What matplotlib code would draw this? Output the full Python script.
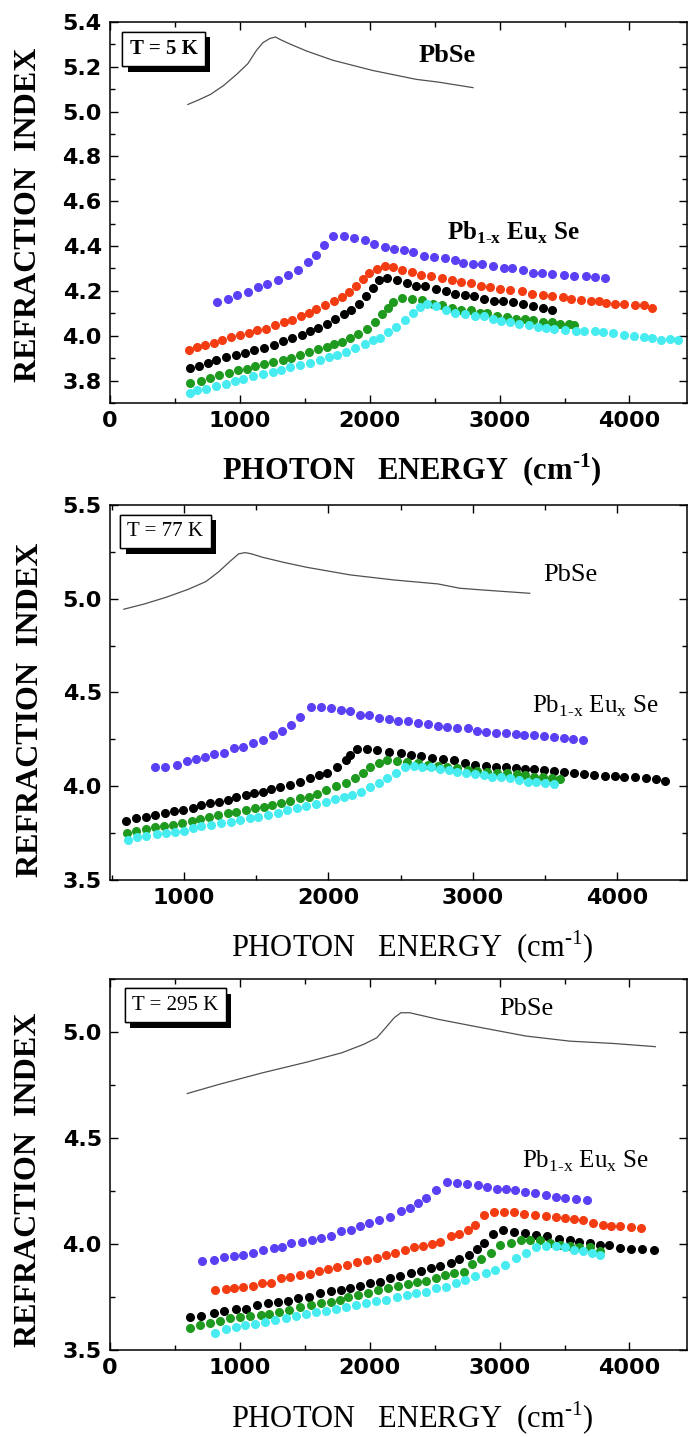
import matplotlib
matplotlib.use('Agg')
import matplotlib.pyplot as plt
import matplotlib.patheffects as pe
from matplotlib.ticker import MultipleLocator

plt.rcParams['mathtext.fontset'] = 'custom'
plt.rcParams['mathtext.rm'] = 'Liberation Serif'
plt.rcParams['mathtext.bf'] = 'Liberation Serif:bold'

# ---------------- T = 5 K ----------------
pbse5_x = [599, 673, 774, 875, 976, 1061, 1128, 1178, 1229, 1273, 1313, 1380, 1515, 1717, 2020, 2357, 2525, 2795]
pbse5_y = [5.032, 5.050, 5.077, 5.117, 5.167, 5.214, 5.274, 5.308, 5.326, 5.333, 5.321, 5.303, 5.270,
           5.229, 5.184, 5.144, 5.132, 5.107]

blue5_x = [825, 909, 976, 1061, 1138, 1212, 1296, 1374, 1448, 1522, 1582, 1650, 1717, 1801,
           1879, 1963, 2030, 2114, 2189, 2263, 2333, 2418, 2492, 2576, 2653, 2721, 2795, 2862,
           2946, 3030, 3098, 3182, 3259, 3327, 3401, 3495, 3569, 3663, 3737, 3811]
blue5_y = [4.150, 4.162, 4.180, 4.195, 4.217, 4.232, 4.250, 4.272, 4.294, 4.329, 4.361, 4.403,
           4.443, 4.443, 4.437, 4.425, 4.409, 4.396, 4.388, 4.384, 4.373, 4.357, 4.351, 4.348,
           4.339, 4.324, 4.318, 4.318, 4.311, 4.303, 4.303, 4.291, 4.281, 4.279, 4.274, 4.269,
           4.266, 4.265, 4.262, 4.257]

red5_x = [606, 667, 731, 798, 865, 933, 1000, 1067, 1135, 1202, 1269, 1337, 1404, 1471, 1532,
          1589, 1657, 1724, 1785, 1842, 1892, 1946, 1997, 2054, 2121, 2182, 2249, 2323, 2397,
          2475, 2559, 2633, 2700, 2778, 2855, 2923, 3003, 3081, 3172, 3249, 3333, 3407, 3485,
          3552, 3630, 3704, 3764, 3822, 3889, 3956, 4040, 4108, 4175]
red5_y = [3.937, 3.949, 3.960, 3.968, 3.979, 3.994, 4.004, 4.013, 4.024, 4.031, 4.049, 4.061,
          4.071, 4.086, 4.101, 4.120, 4.138, 4.153, 4.172, 4.193, 4.221, 4.253, 4.279, 4.297,
          4.312, 4.306, 4.291, 4.284, 4.272, 4.265, 4.257, 4.247, 4.239, 4.235, 4.224, 4.217,
          4.210, 4.202, 4.198, 4.187, 4.180, 4.177, 4.172, 4.162, 4.160, 4.154, 4.153, 4.146,
          4.140, 4.140, 4.138, 4.135, 4.123]

black5_x = [616, 684, 751, 818, 892, 966, 1037, 1111, 1185, 1263, 1330, 1404, 1475, 1542, 1599,
            1667, 1734, 1801, 1859, 1919, 1973, 2027, 2071, 2131, 2212, 2290, 2357, 2424, 2508,
            2586, 2660, 2734, 2801, 2879, 2956, 3024, 3104, 3182, 3259, 3333, 3407]
black5_y = [3.857, 3.864, 3.879, 3.890, 3.905, 3.915, 3.924, 3.937, 3.946, 3.960, 3.976, 3.991,
            4.001, 4.021, 4.034, 4.053, 4.073, 4.095, 4.116, 4.143, 4.175, 4.214, 4.250, 4.259,
            4.247, 4.235, 4.221, 4.220, 4.210, 4.198, 4.187, 4.180, 4.175, 4.165, 4.157, 4.153,
            4.150, 4.143, 4.131, 4.125, 4.116]

green5_x = [616, 700, 768, 842, 916, 987, 1054, 1118, 1185, 1256, 1330, 1397, 1465, 1532, 1599,
            1667, 1724, 1785, 1845, 1912, 1980, 2037, 2094, 2138, 2182, 2249, 2323, 2401, 2485,
            2559, 2636, 2700, 2778, 2845, 2902, 2980, 3054, 3125, 3192, 3259, 3333, 3401, 3468,
            3535, 3576]
green5_y = [3.788, 3.800, 3.812, 3.823, 3.835, 3.845, 3.852, 3.863, 3.872, 3.882, 3.890, 3.901,
            3.915, 3.927, 3.939, 3.949, 3.961, 3.974, 3.991, 4.009, 4.031, 4.061, 4.098, 4.125,
            4.150, 4.168, 4.162, 4.160, 4.143, 4.135, 4.125, 4.116, 4.113, 4.101, 4.101, 4.090,
            4.083, 4.076, 4.073, 4.068, 4.061, 4.061, 4.053, 4.053, 4.046]

cyan5_x = [616, 673, 741, 815, 892, 960, 1027, 1104, 1178, 1253, 1320, 1387, 1465, 1542, 1616,
           1684, 1751, 1818, 1886, 1960, 2027, 2081, 2138, 2205, 2273, 2330, 2384, 2441, 2508,
           2586, 2660, 2734, 2811, 2879, 2946, 3013, 3081, 3148, 3226, 3293, 3360, 3418, 3502,
           3586, 3653, 3731, 3798, 3872, 3956, 4034, 4108, 4175, 4242, 4310, 4377]
cyan5_y = [3.744, 3.759, 3.763, 3.774, 3.786, 3.797, 3.808, 3.818, 3.827, 3.838, 3.848, 3.860,
           3.870, 3.879, 3.893, 3.905, 3.915, 3.927, 3.945, 3.964, 3.979, 3.991, 4.016, 4.038,
           4.068, 4.101, 4.128, 4.140, 4.131, 4.113, 4.101, 4.098, 4.090, 4.086, 4.076, 4.065,
           4.061, 4.053, 4.046, 4.038, 4.034, 4.031, 4.027, 4.019, 4.019, 4.019, 4.016, 4.012,
           4.001, 3.997, 3.994, 3.991, 3.983, 3.986, 3.979]

# ---------------- T = 77 K ----------------
pbse77_x = [585, 727, 879, 1030, 1152, 1242, 1318, 1379, 1424, 1470, 1545, 1697, 1848, 2152, 2455,
            2758, 2909, 3061, 3394]
pbse77_y = [4.944, 4.972, 5.008, 5.050, 5.091, 5.144, 5.198, 5.239, 5.246, 5.239, 5.221, 5.193,
            5.168, 5.127, 5.100, 5.079, 5.056, 5.047, 5.029]

blue77_x = [803, 873, 955, 1024, 1082, 1145, 1212, 1279, 1348, 1409, 1479, 1545, 1615, 1682, 1742,
            1803, 1879, 1948, 2021, 2091, 2152, 2218, 2282, 2348, 2418, 2485, 2552, 2621, 2691,
            2758, 2824, 2894, 2964, 3030, 3091, 3161, 3227, 3297, 3358, 3424, 3491, 3561, 3630,
            3697, 3764]
blue77_y = [4.101, 4.104, 4.113, 4.135, 4.144, 4.158, 4.172, 4.179, 4.202, 4.211, 4.229, 4.247,
            4.273, 4.296, 4.327, 4.371, 4.421, 4.424, 4.416, 4.407, 4.401, 4.380, 4.380, 4.362,
            4.357, 4.350, 4.350, 4.339, 4.330, 4.321, 4.316, 4.309, 4.309, 4.296, 4.291, 4.286,
            4.286, 4.279, 4.273, 4.273, 4.268, 4.261, 4.256, 4.250, 4.247]

black77_x = [600, 667, 742, 803, 873, 933, 994, 1061, 1121, 1182, 1242, 1303, 1364, 1430, 1485,
             1545, 1606, 1667, 1733, 1803, 1873, 1933, 1994, 2061, 2121, 2152, 2197, 2267, 2339,
             2418, 2500, 2570, 2642, 2721, 2794, 2873, 2945, 3015, 3091, 3158, 3227, 3297, 3364,
             3424, 3491, 3561, 3630, 3703, 3773, 3842, 3915, 3985, 4045, 4121, 4197, 4267, 4333]
black77_y = [3.816, 3.829, 3.838, 3.847, 3.859, 3.868, 3.873, 3.882, 3.900, 3.909, 3.918, 3.927,
             3.941, 3.953, 3.962, 3.971, 3.984, 3.998, 4.007, 4.024, 4.042, 4.060, 4.072, 4.104,
             4.140, 4.167, 4.197, 4.197, 4.193, 4.184, 4.176, 4.167, 4.161, 4.149, 4.144, 4.140,
             4.122, 4.113, 4.108, 4.104, 4.101, 4.096, 4.090, 4.090, 4.087, 4.083, 4.078, 4.072,
             4.065, 4.060, 4.056, 4.055, 4.051, 4.048, 4.042, 4.039, 4.030]

green77_x = [606, 667, 736, 803, 864, 924, 985, 1055, 1115, 1176, 1236, 1303, 1364, 1430, 1491,
             1552, 1612, 1673, 1733, 1803, 1864, 1924, 1985, 2055, 2121, 2182, 2242, 2288, 2348,
             2409, 2479, 2545, 2621, 2691, 2758, 2824, 2894, 2964, 3030, 3097, 3167, 3236, 3303,
             3364, 3424, 3485, 3545, 3606]
green77_y = [3.752, 3.763, 3.772, 3.781, 3.788, 3.793, 3.802, 3.816, 3.824, 3.834, 3.847, 3.856,
             3.864, 3.873, 3.882, 3.891, 3.900, 3.912, 3.923, 3.936, 3.944, 3.957, 3.980, 4.001,
             4.016, 4.046, 4.072, 4.101, 4.122, 4.140, 4.135, 4.131, 4.122, 4.113, 4.108, 4.101,
             4.096, 4.087, 4.083, 4.078, 4.072, 4.069, 4.065, 4.060, 4.051, 4.048, 4.042, 4.037]

cyan77_x = [612, 676, 742, 812, 879, 939, 1000, 1061, 1121, 1188, 1258, 1327, 1388, 1455, 1515,
            1582, 1652, 1712, 1782, 1848, 1915, 1985, 2045, 2106, 2167, 2227, 2288, 2348, 2409,
            2470, 2530, 2591, 2652, 2712, 2773, 2833, 2894, 2955, 3015, 3076, 3136, 3197, 3258,
            3318, 3379, 3439, 3500, 3561]
cyan77_y = [3.713, 3.728, 3.735, 3.745, 3.752, 3.758, 3.763, 3.776, 3.788, 3.793, 3.802, 3.811,
            3.820, 3.829, 3.838, 3.847, 3.856, 3.873, 3.882, 3.895, 3.905, 3.918, 3.930, 3.944,
            3.953, 3.971, 3.994, 4.019, 4.042, 4.069, 4.101, 4.108, 4.104, 4.101, 4.090, 4.087,
            4.078, 4.069, 4.065, 4.060, 4.051, 4.051, 4.042, 4.033, 4.024, 4.024, 4.016, 4.012]

# ---------------- T = 295 K ----------------
pbse295_x = [595, 838, 1176, 1514, 1784, 1953, 2054, 2122, 2189, 2240, 2307, 2527, 2865, 3203,
             3541, 3878, 4199]
pbse295_y = [4.710, 4.753, 4.808, 4.858, 4.902, 4.942, 4.973, 5.020, 5.068, 5.091, 5.091, 5.060,
             5.020, 4.981, 4.957, 4.946, 4.931]

blue295_x = [709, 804, 878, 956, 1024, 1101, 1176, 1260, 1321, 1395, 1480, 1554, 1625, 1699, 1777,
             1858, 1926, 1997, 2071, 2155, 2240, 2307, 2375, 2432, 2510, 2595, 2672, 2747, 2831,
             2899, 2976, 3051, 3118, 3193, 3270, 3355, 3432, 3507, 3591, 3669]
blue295_y = [3.918, 3.925, 3.938, 3.946, 3.949, 3.957, 3.973, 3.981, 3.988, 4.004, 4.009, 4.020,
             4.028, 4.040, 4.063, 4.067, 4.086, 4.099, 4.115, 4.126, 4.154, 4.170, 4.193, 4.217,
             4.256, 4.291, 4.288, 4.283, 4.280, 4.267, 4.259, 4.259, 4.253, 4.244, 4.241, 4.233,
             4.222, 4.217, 4.212, 4.209]

red295_x = [811, 889, 956, 1024, 1101, 1169, 1243, 1318, 1385, 1463, 1541, 1608, 1676, 1750, 1824,
            1902, 1980, 2054, 2122, 2196, 2274, 2341, 2409, 2476, 2544, 2622, 2689, 2757, 2814,
            2882, 2959, 3034, 3108, 3186, 3270, 3355, 3432, 3507, 3574, 3642, 3716, 3794, 3861,
            3929, 4014, 4088]
red295_y = [3.781, 3.787, 3.792, 3.799, 3.803, 3.815, 3.818, 3.839, 3.844, 3.855, 3.859, 3.875,
            3.881, 3.894, 3.902, 3.913, 3.925, 3.933, 3.949, 3.957, 3.970, 3.988, 3.992, 4.001,
            4.012, 4.036, 4.047, 4.064, 4.091, 4.138, 4.151, 4.151, 4.151, 4.143, 4.138, 4.130,
            4.127, 4.122, 4.119, 4.115, 4.099, 4.091, 4.086, 4.083, 4.080, 4.075]

black295_x = [618, 703, 797, 878, 966, 1047, 1135, 1216, 1294, 1372, 1446, 1530, 1615, 1699, 1777,
              1851, 1926, 2003, 2081, 2155, 2230, 2318, 2392, 2470, 2544, 2622, 2689, 2764, 2824,
              2882, 2949, 3027, 3108, 3196, 3277, 3365, 3456, 3541, 3615, 3693, 3770, 3845, 3929,
              4014, 4098, 4189]
black295_y = [3.655, 3.661, 3.677, 3.686, 3.692, 3.692, 3.713, 3.721, 3.729, 3.733, 3.744, 3.752,
              3.768, 3.779, 3.784, 3.792, 3.803, 3.815, 3.823, 3.839, 3.850, 3.862, 3.875, 3.886,
              3.897, 3.910, 3.929, 3.949, 3.976, 4.007, 4.048, 4.064, 4.059, 4.051, 4.044, 4.036,
              4.023, 4.020, 4.012, 4.004, 3.996, 3.996, 3.981, 3.976, 3.976, 3.970]

green295_x = [618, 696, 770, 845, 922, 1000, 1081, 1159, 1226, 1304, 1378, 1463, 1547, 1622, 1699,
              1767, 1834, 1912, 1986, 2061, 2139, 2216, 2291, 2365, 2432, 2510, 2578, 2645, 2723,
              2791, 2858, 2932, 3000, 3084, 3162, 3236, 3311, 3389, 3466, 3541, 3615, 3693, 3770]
green295_y = [3.602, 3.618, 3.626, 3.639, 3.650, 3.655, 3.661, 3.666, 3.670, 3.681, 3.689, 3.702,
              3.713, 3.721, 3.729, 3.736, 3.749, 3.760, 3.771, 3.784, 3.792, 3.803, 3.812, 3.823,
              3.828, 3.839, 3.855, 3.862, 3.870, 3.907, 3.929, 3.960, 3.996, 4.007, 4.017, 4.020,
              4.017, 4.007, 3.996, 3.992, 3.988, 3.985, 3.965]

cyan295_x = [811, 889, 966, 1041, 1115, 1193, 1270, 1351, 1429, 1507, 1588, 1666, 1743, 1818, 1892,
             1970, 2047, 2128, 2206, 2284, 2358, 2432, 2510, 2588, 2662, 2736, 2814, 2892, 2966,
             3041, 3128, 3203, 3277, 3355, 3432, 3507, 3574, 3642, 3709, 3770]
cyan295_y = [3.582, 3.598, 3.610, 3.618, 3.623, 3.634, 3.642, 3.650, 3.661, 3.670, 3.681, 3.686,
             3.692, 3.705, 3.713, 3.721, 3.733, 3.736, 3.749, 3.760, 3.768, 3.776, 3.792, 3.799,
             3.815, 3.831, 3.850, 3.862, 3.878, 3.902, 3.933, 3.957, 3.985, 3.992, 3.992, 3.985,
             3.970, 3.965, 3.960, 3.949]

# Cores dos pontos
c_blue = '#5a40f4'
c_red = '#f43c12'
c_black = '#000000'
c_green = '#1e9a1e'
c_cyan = '#46ecf0'

fig = plt.figure(figsize=(6.88, 14.37), dpi=100, facecolor='white')

paineis = [
    dict(rect=[0.160, 0.7196, 0.838, 0.2651], xlim=(0, 4440), ylim=(3.7, 5.4),
         ymaj=0.2, ymin=0.1, xt=[0, 1000, 2000, 3000, 4000], bold=True,
         T='T = 5 K', tpos=(0.034, 0.955),
         pbse=(pbse5_x, pbse5_y), pts=[(blue5_x, blue5_y, c_blue), (red5_x, red5_y, c_red),
                                       (black5_x, black5_y, c_black), (green5_x, green5_y, c_green),
                                       (cyan5_x, cyan5_y, c_cyan)],
         lab_pbse=(2374, 5.25), lab_eu=(2593, 4.46),
         xlab_y=470, ylab=(29, 215)),
    dict(rect=[0.160, 0.3876, 0.838, 0.2610], xlim=(490, 4480), ylim=(3.5, 5.5),
         ymaj=0.5, ymin=0.25, xt=[1000, 2000, 3000, 4000], bold=False,
         T='T = 77 K', tpos=(0.030, 0.955),
         pbse=(pbse77_x, pbse77_y), pts=[(blue77_x, blue77_y, c_blue), (black77_x, black77_y, c_black),
                                         (green77_x, green77_y, c_green), (cyan77_x, cyan77_y, c_cyan)],
         lab_pbse=(3485, 5.127), lab_eu=(3409, 4.424),
         xlab_y=947, ylab=(31, 710)),
    dict(rect=[0.160, 0.0605, 0.838, 0.2582], xlim=(0, 4440), ylim=(3.5, 5.25),
         ymaj=0.5, ymin=0.25, xt=[0, 1000, 2000, 3000, 4000], bold=False,
         T='T = 295 K', tpos=(0.038, 0.955),
         pbse=(pbse295_x, pbse295_y), pts=[(blue295_x, blue295_y, c_blue), (red295_x, red295_y, c_red),
                                           (black295_x, black295_y, c_black), (green295_x, green295_y, c_green),
                                           (cyan295_x, cyan295_y, c_cyan)],
         lab_pbse=(3000, 5.11), lab_eu=(3169, 4.39),
         xlab_y=1418, ylab=(29, 1180)),
]

for p in paineis:
    ax = fig.add_axes(p['rect'])
    peso = 'bold' if p['bold'] else 'normal'

    # Curva PbSe (linha fina)
    ax.plot(p['pbse'][0], p['pbse'][1], color='#505050', lw=0.9)

    # Pontos Pb1-x Eux Se
    for xs, ys, cor in p['pts']:
        ax.plot(xs, ys, linestyle='none', marker='o', ms=5.5, color=cor, mec=cor, clip_on=False)

    ax.set_xlim(*p['xlim'])
    ax.set_ylim(*p['ylim'])

    # Eixos e ticks
    ax.set_xticks(p['xt'])
    ax.xaxis.set_minor_locator(MultipleLocator(500))
    ax.yaxis.set_major_locator(MultipleLocator(p['ymaj']))
    ax.yaxis.set_minor_locator(MultipleLocator(p['ymin']))
    ax.tick_params(which='both', direction='in', top=True, right=True, width=1.0)
    ax.tick_params(which='major', length=6, labelsize=16, pad=6)
    ax.tick_params(which='minor', length=3.5)
    for lbl in ax.get_xticklabels() + ax.get_yticklabels():
        lbl.set_fontweight('bold')
        lbl.set_family('DejaVu Sans')
    for s in ax.spines.values():
        s.set_linewidth(1.1)

    # Caixa com temperatura e sombra
    t = ax.text(p['tpos'][0], p['tpos'][1], p['T'], transform=ax.transAxes, ha='left', va='top',
                fontsize=15, fontweight=peso, family='Liberation Serif',
                bbox=dict(boxstyle='square,pad=0.35', facecolor='white', edgecolor='black', lw=1.0))
    t.get_bbox_patch().set_path_effects([pe.withSimplePatchShadow(offset=(4, -4), shadow_rgbFace='black', alpha=1.0),
                                         pe.Normal()])

    # Rotulos das curvas
    ax.text(p['lab_pbse'][0], p['lab_pbse'][1], 'PbSe', ha='left', va='center', fontsize=19,
            fontweight=peso, family='Liberation Serif')
    if p['bold']:
        eu = r'Pb$_{\mathbf{1}\text{-}\mathbf{x}}$ Eu$_{\mathbf{x}}$ Se'
    else:
        eu = r'Pb$_{\mathrm{1}\text{-}\mathrm{x}}$ Eu$_{\mathrm{x}}$ Se'
    ax.text(p['lab_eu'][0], p['lab_eu'][1], eu, ha='left', va='center', fontsize=18,
            fontweight=peso, family='Liberation Serif')

    # Titulos dos eixos
    if p['bold']:
        xl = r'PHOTON   ENERGY  (cm$^{\text{-}\mathbf{1}}$)'
    else:
        xl = r'PHOTON   ENERGY  (cm$^{\text{-}\mathrm{1}}$)'
    fig.text(0.599, 1 - p['xlab_y'] / 1437, xl, ha='center', va='center', fontsize=22,
             fontweight=peso, family='Liberation Serif')
    fig.text(p['ylab'][0] / 688, 1 - p['ylab'][1] / 1437, 'REFRACTION  INDEX', rotation=90,
             ha='center', va='center', fontsize=23, fontweight='bold', family='Liberation Serif')

fig.savefig('out.png', dpi=100, facecolor='white')
plt.close()
